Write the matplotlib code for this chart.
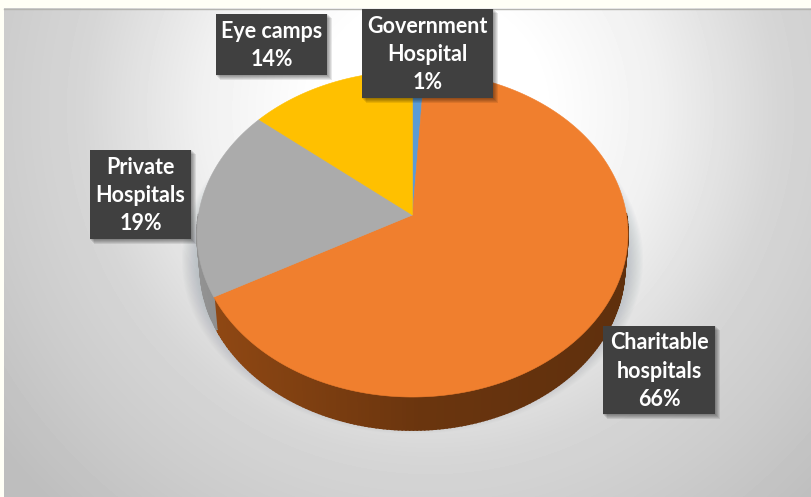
import numpy as np
import matplotlib
matplotlib.use("Agg")
import matplotlib.pyplot as plt
from matplotlib.patches import Rectangle

# clockwise from twelve o'clock
categories = ["Government\nHospital", "Charitable\nhospitals", "Private\nHospitals", "Eye camps"]
shares = [1, 66, 19, 14]
top_colors = ["#5B9BD5", "#F07F2E", "#ABABAB", "#FFC000"]
side_colors = ["#3A6A94", "#70380F", "#707070", "#A67D00"]

W, H = 812, 497
CX, CY = 412.5, 215
RX, RY_K = 214, -0.1166
RY = 160.8
DEPTH = 33

# label boxes: left, top, right, bottom
boxes = [(362, 9, 493, 98), (603, 326, 715, 414), (90, 150, 191, 239), (216, 14, 327, 75)]

plt.rcParams["font.family"] = ["Lato", "DejaVu Sans"]


def rim(angle):
    # angle in radians clockwise from the top, tilted disc with perspective
    x = np.sin(angle)
    y = np.cos(angle)
    d = 1 - RY_K * y
    return CX + RX * x / d, CY - RY * y / d


def side_shade(color, px):
    # side wall gets darker from left to right
    rgb = np.array(matplotlib.colors.to_rgb(color))
    f = np.interp(px, [200, 420, 630], [1.3, 0.95, 0.85])
    return np.clip(rgb * f, 0, 1)


fig = plt.figure(figsize=(W / 100, H / 100), dpi=100, facecolor="#FFFFF6")
ax = fig.add_axes([0, 0, 1, 1])
ax.set_xlim(0, W)
ax.set_ylim(H, 0)
ax.axis("off")

# radial grey background of the chart area
xx, yy = np.meshgrid(np.arange(4, W), np.arange(8, H))
dist = np.hypot(xx - 430, yy - 110)
grey = np.interp(dist, [0, 120, 230, 347, 438, 544], [255, 254, 240, 214, 204, 190]) / 255
ax.imshow(grey, cmap="gray", vmin=0, vmax=1, extent=(4, W, H, 8), aspect="auto", zorder=0)
ax.set_xlim(0, W)
ax.set_ylim(H, 0)
ax.plot([4, W], [8.5, 8.5], color="#B4B4B0", lw=1, zorder=1)

# soft shadow under the disc
full = np.linspace(0, 2 * np.pi, 240)
sx, sy = rim(full)
for grow in np.linspace(1.0, 1.07, 14):
    ax.fill(CX + (sx - CX) * grow, CY + 24 + (sy - CY) * grow, color="#7F8C98", alpha=0.03, lw=0, zorder=1)

edges = np.cumsum([0] + shares) / sum(shares) * 2 * np.pi

# side wall, drawn as thin strips so it can shade across; the back half is hidden anyway
for i in range(len(shares)):
    a = np.linspace(edges[i], edges[i + 1], max(4, int(shares[i] * 4)))
    px, py = rim(a)
    lx = CX + (px - CX) * 0.985
    ly = py + DEPTH
    for j in range(len(a) - 1):
        if np.cos(a[j]) > 0 and np.cos(a[j + 1]) > 0:
            continue
        shade = side_shade(side_colors[i], px[j])
        ax.fill([px[j], px[j + 1], lx[j + 1], lx[j]], [py[j], py[j + 1], ly[j + 1], ly[j]],
                facecolor=shade, edgecolor=shade, lw=1.2, zorder=2)

# top face
for i in range(len(shares)):
    a = np.linspace(edges[i], edges[i + 1], max(4, int(shares[i] * 4)))
    px, py = rim(a)
    ax.fill(np.r_[CX, px], np.r_[CY, py], facecolor=top_colors[i], edgecolor=top_colors[i], lw=0.4, zorder=3)

# data labels
for name, share, (x0, y0, x1, y1) in zip(categories, shares, boxes):
    for off in np.linspace(5, 1, 5):
        ax.add_patch(Rectangle((x0 + off - 1, y0 + off - 1), x1 - x0 + 1, y1 - y0 + 1,
                               color="#000000", alpha=0.09, lw=0, zorder=4))
    ax.add_patch(Rectangle((x0, y0), x1 - x0, y1 - y0, color="#404040", lw=0, zorder=5))
    ax.text((x0 + x1) / 2, (y0 + y1) / 2 + 1, f"{name}\n{share}%", color="white", fontsize=15.5,
            fontweight="bold", ha="center", va="center", linespacing=1.42, zorder=6)

fig.savefig("out.png", dpi=100, facecolor=fig.get_facecolor())
